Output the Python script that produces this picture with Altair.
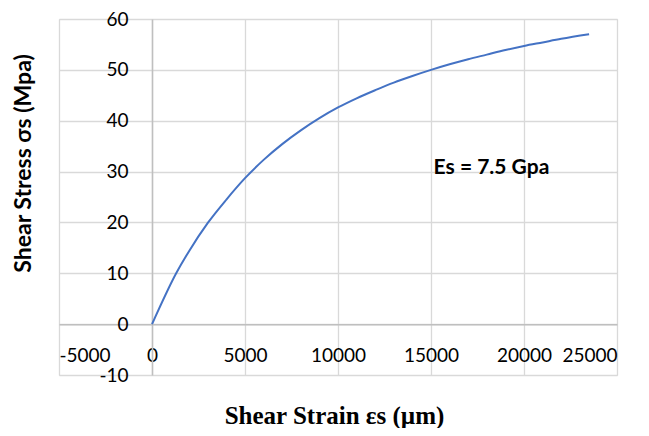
import altair as alt
import pandas as pd

# Shear strain (µm) and shear stress (MPa)
strain = [0, 100, 1300, 2000, 3000, 4000, 5000, 6000, 7000, 8000, 9000, 10000,
          11000, 12000, 13000, 14000, 15000, 16000, 17000, 18000, 19000, 20000,
          21000, 22000, 23500]
stress = [0, 0.8, 10.0, 14.4, 19.9, 24.5, 28.7, 32.3, 35.4, 38.1, 40.5, 42.6,
          44.4, 46.0, 47.5, 48.8, 50.0, 51.1, 52.1, 53.0, 53.9, 54.7,
          55.4, 56.1, 57.0]

x_ticks = [-5000, 0, 5000, 10000, 15000, 20000, 25000]
y_ticks = [-10, 0, 10, 20, 30, 40, 50, 60]

note_x = [18250]
note_y = [30.8]
note_text = ["Es = 7.5 Gpa"]

df = pd.DataFrame({"strain": strain, "stress": stress})
note = pd.DataFrame({"strain": note_x, "stress": note_y, "label": note_text})

xscale = alt.Scale(domain=[-5000, 25000], nice=False, zero=False)
yscale = alt.Scale(domain=[-10, 60], nice=False, zero=False)

W, H = 558, 356
x0_pix = W * (0 - (-5000)) / 30000      # pixel of strain = 0 from left
y0_from_bottom = H * (0 - (-10)) / 70   # pixel of stress = 0 from bottom

line = alt.Chart(df).mark_line(color="#4472C4", strokeWidth=2,
                               interpolate="monotone").encode(
    x=alt.X("strain:Q", scale=xscale,
            axis=alt.Axis(values=x_ticks, grid=True, labels=False, ticks=False,
                          domain=False, title=None, gridColor="#d9d9d9",
                          gridWidth=1.3, orient="bottom")),
    y=alt.Y("stress:Q", scale=yscale,
            axis=alt.Axis(values=y_ticks, grid=True, labels=False, ticks=False,
                          domain=False, title=None, gridColor="#d9d9d9",
                          gridWidth=1.3, orient="left")),
)

text = alt.Chart(note).mark_text(
    font="Lato", fontSize=21, fontWeight="bold", color="#000000",
    align="center", baseline="middle"
).encode(
    x=alt.X("strain:Q", scale=xscale,
            axis=alt.Axis(orient="bottom", offset=-y0_from_bottom, values=x_ticks,
                          grid=False, ticks=False, domain=True,
                          domainColor="#bfbfbf", domainWidth=1.5,
                          labelPadding=22, labelFont="Lato", labelFontSize=19,
                          labelColor="#000000", labelExpr="'' + datum.value",
                          labelOverlap=False, labelBound=False,
                          title="Shear Strain εs (µm)",
                          titleFont="Liberation Serif", titleFontSize=25,
                          titleFontWeight="bold", titleColor="#000000",
                          titleBaseline="alphabetic", titleAlign="center",
                          titleX=275, titleY=99)),
    y=alt.Y("stress:Q", scale=yscale,
            axis=alt.Axis(orient="left", offset=-x0_pix, values=y_ticks,
                          grid=False, ticks=False, domain=True,
                          domainColor="#bfbfbf", domainWidth=1.5,
                          labelPadding=24, labelFont="Lato", labelFontSize=19,
                          labelColor="#000000", labelExpr="'' + datum.value",
                          labelOverlap=False,
                          title="Shear Stress σs (Mpa)",
                          titleFont="Lato", titleFontSize=23,
                          titleFontWeight="bold", titleColor="#000000",
                          titleAngle=270, titleAlign="center",
                          titleBaseline="middle",
                          titleX=-129, titleY=144)),
    text="label:N",
)

chart = alt.layer(line, text).resolve_axis(
    x="independent", y="independent"
).properties(
    width=W, height=H,
    autosize=alt.AutoSizeParams(type="none"),
    padding={"left": 51, "top": 11, "right": 24, "bottom": 53},
).configure_view(stroke=None).configure(background="white")

chart.save("out.html", embed_options={"renderer": "svg", "actions": False})
